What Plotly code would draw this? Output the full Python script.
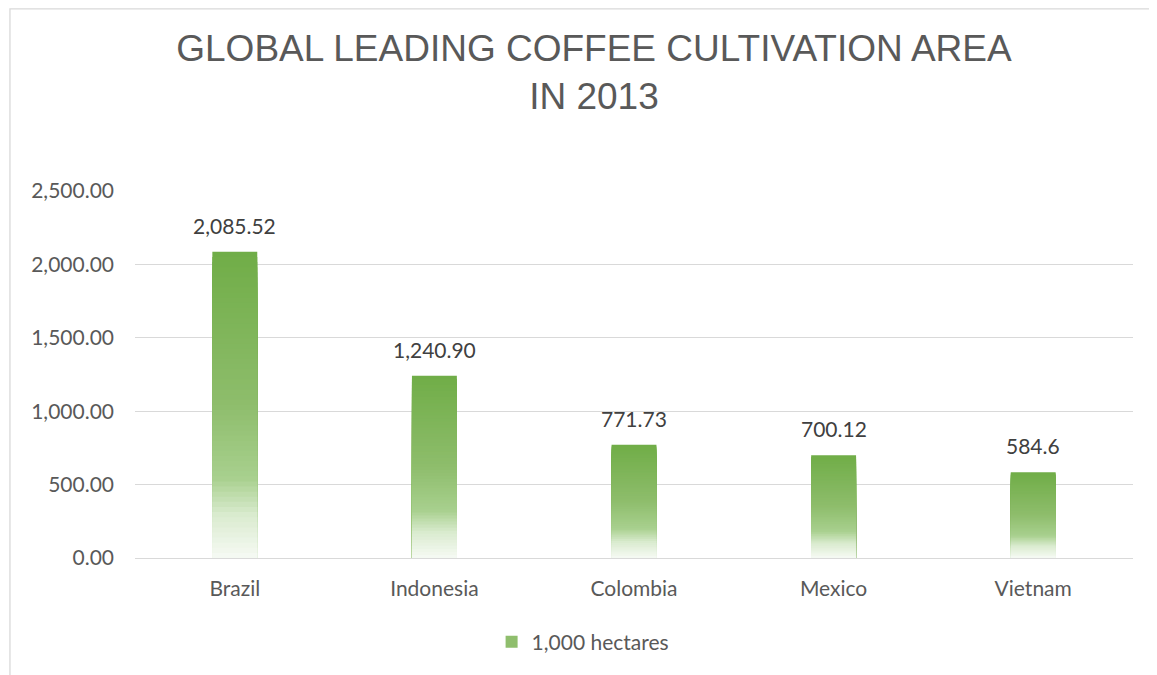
import plotly.graph_objects as go

# ---- data ----
countries = ["Brazil", "Indonesia", "Colombia", "Mexico", "Vietnam"]
area_kha = [2085.52, 1240.90, 771.73, 700.12, 584.6]
value_labels = ["2,085.52", "1,240.90", "771.73", "700.12", "584.6"]
series_name = "1,000 hectares"
title_text = "GLOBAL LEADING COFFEE CULTIVATION AREA<br>IN 2013"

# ---- gradient helper (top -> bottom of each bar) ----
stops = [
    (0.00, (112, 173, 71)),
    (0.50, (142, 189, 108)),
    (0.74, (168, 208, 142)),
    (0.86, (218, 235, 207)),
    (1.00, (246, 250, 244)),
]

def grad(t):
    for (t0, c0), (t1, c1) in zip(stops[:-1], stops[1:]):
        if t <= t1:
            f = (t - t0) / (t1 - t0)
            return "rgb(%d,%d,%d)" % tuple(round(a + (b - a) * f) for a, b in zip(c0, c1))
    return "rgb(%d,%d,%d)" % stops[-1][1]

N = 60
fig = go.Figure()
for k in range(N):
    frac = 1 - k / N
    fig.add_trace(go.Bar(
        x=countries,
        y=[v * frac for v in area_kha],
        marker=dict(color=grad((k + 0.5) / N), line=dict(width=0)),
        opacity=1,
        width=0.225,
        name=series_name,
        showlegend=(k == N // 2),
        hoverinfo="skip",
    ))

FONT = "Lato"
for c, v, lab in zip(countries, area_kha, value_labels):
    fig.add_annotation(x=c, y=v, text=lab, showarrow=False, yanchor="bottom",
                       yshift=12, font=dict(family=FONT, size=21, color="#404040"))

# chart border (left/top visible)
fig.add_shape(type="rect", xref="paper", yref="paper",
              x0=-0.1253, x1=1.04, y0=-0.34, y1=1.496,
              line=dict(color="#d9d9d9", width=1.3), fillcolor="rgba(0,0,0,0)", layer="below")

fig.update_layout(
    barmode="overlay",
    width=1149, height=667,
    margin=dict(l=127, r=24, t=183, b=117),
    paper_bgcolor="white", plot_bgcolor="white",
    title=dict(text=title_text, x=0.5100, xanchor="center", y=0.921, yanchor="top",
               font=dict(family="Liberation Sans", size=37, color="#595959")),
    font=dict(family=FONT, size=21, color="#595959"),
    legend=dict(orientation="h", x=0.449, xanchor="center", y=-0.229, yanchor="middle",
                font=dict(family=FONT, size=21, color="#595959")),
    xaxis=dict(showgrid=False, showline=False, ticks="", ticklabelstandoff=16,
               tickfont=dict(family=FONT, size=21, color="#595959")),
    yaxis=dict(range=[0, 2500], tick0=0, dtick=500, tickformat=",.2f",
               showgrid=True, gridcolor="#d9d9d9", gridwidth=1,
               zeroline=True, zerolinecolor="#d9d9d9", zerolinewidth=1.3,
               showline=False, ticks="", ticklabelstandoff=20,
               tickfont=dict(family=FONT, size=21, color="#595959")),
    showlegend=True,
)

fig.write_html("out.html")
